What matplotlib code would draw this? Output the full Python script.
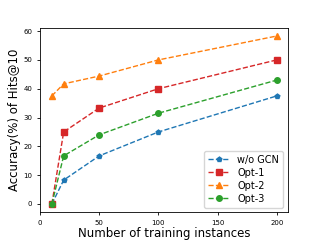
import matplotlib
matplotlib.use('Agg')
import matplotlib.pyplot as plt

x = [10, 20, 50, 100, 200]
wo_gcn = [0, 8.3, 16.7, 25.0, 37.5]
opt1 = [0, 25.0, 33.3, 40.0, 50.0]
opt2 = [37.5, 41.7, 44.4, 50.0, 58.3]
opt3 = [0, 16.7, 24.0, 31.5, 43.0]

fig = plt.figure(figsize=(3.2, 2.4), dpi=100)
ax = fig.add_axes([0.125, 0.115, 0.775, 0.77])

ax.plot(x, wo_gcn, '--', marker='p', color='#1f77b4', ms=3.5, lw=1, label='w/o GCN')
ax.plot(x, opt1, '--', marker='s', color='#d62728', ms=4.5, lw=1, label='Opt-1')
ax.plot(x, opt2, '--', marker='^', color='#ff7f0e', ms=4.5, lw=1, label='Opt-2')
ax.plot(x, opt3, '--', marker='o', color='#2ca02c', ms=4, lw=1, label='Opt-3')

ax.set_xticks([0, 50, 100, 150, 200])
ax.set_yticks([0, 10, 20, 30, 40, 50, 60])
ax.tick_params(labelsize=5, length=2, width=0.6)
for s in ax.spines.values():
    s.set_linewidth(0.6)
ax.set_xlabel('Number of training instances', fontsize=8.5, labelpad=1)
ax.set_ylabel('Accuracy(%) of Hits@10', fontsize=8.5, labelpad=2)
ax.legend(loc='lower right', fontsize=7, handlelength=2.2, borderpad=0.4, labelspacing=0.3)

fig.savefig('out.png', dpi=100)
